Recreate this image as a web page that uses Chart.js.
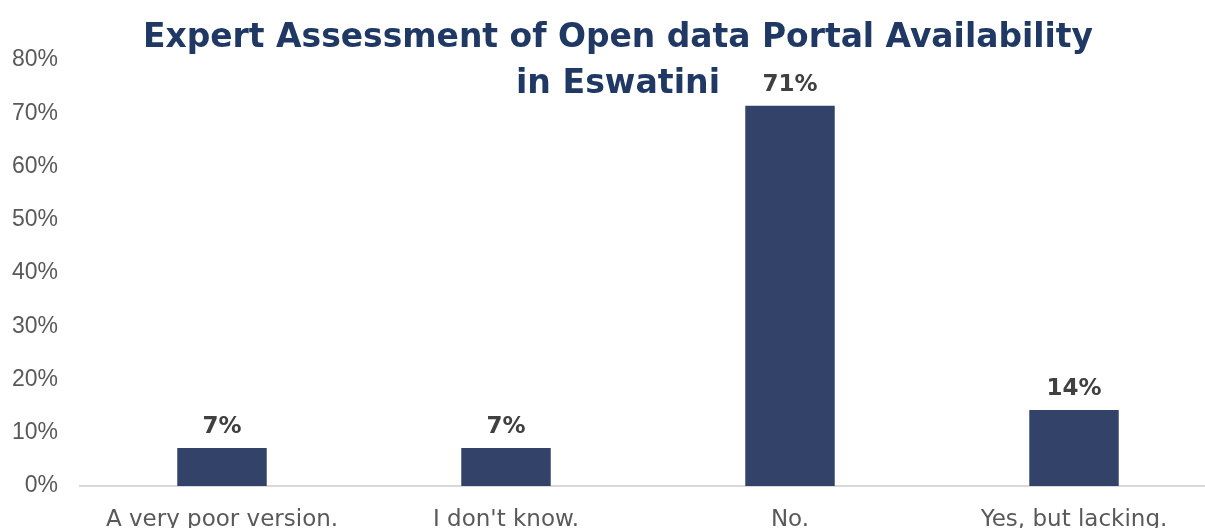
<!DOCTYPE html>
<html>
<head>
<meta charset="utf-8">
<title>Open data Portal Availability</title>
<script src="https://cdn.jsdelivr.net/npm/chart.js@4/dist/chart.umd.min.js"></script>
<style>
    html, body { margin: 0; padding: 0; background: #fff; overflow: hidden; }
    #wrap { position: relative; width: 1216px; height: 528px; }
</style>
</head>
<body>
<div id="wrap"><canvas id="portalChart"></canvas></div>
<script>
// Share of experts per answer (percent)
const categories = ["A very poor version.", "I don't know.", "No.", "Yes, but lacking."];
const shares = [7.14, 7.14, 71.43, 14.29];
const yTicks = [0, 10, 20, 30, 40, 50, 60, 70, 80];
const titleLines = ["Expert Assessment of Open data Portal Availability", "in Eswatini"];

const barColor = "#334269";
const textGray = "#595959";

// Title sits over the top of the plot, like the original report figure
const titlePlugin = {
    id: "overlayTitle",
    afterDraw(chart) {
        const ctx = chart.ctx;
        ctx.save();
        ctx.fillStyle = "#1F3864";
        ctx.font = "bold 34px 'DejaVu Sans', sans-serif";
        ctx.textAlign = "center";
        ctx.textBaseline = "alphabetic";
        ctx.fillText(titleLines[0], 618, 47, 950);
        ctx.fillText(titleLines[1], 618, 93, 204);
        ctx.restore();
    }
};

// Bold percentage above each bar
const valueLabels = {
    id: "valueLabels",
    afterDatasetsDraw(chart) {
        const ctx = chart.ctx;
        const meta = chart.getDatasetMeta(0);
        ctx.save();
        ctx.fillStyle = "#404040";
        ctx.font = "bold 23px 'DejaVu Sans', sans-serif";
        ctx.textAlign = "center";
        ctx.textBaseline = "alphabetic";
        meta.data.forEach((bar, i) => {
            ctx.fillText(Math.round(shares[i]) + "%", bar.x, bar.y - 15);
        });
        ctx.restore();
    }
};

const ctx = document.getElementById("portalChart").getContext("2d");
new Chart(ctx, {
    type: "bar",
    data: {
        labels: categories,
        datasets: [{
            data: shares,
            backgroundColor: barColor,
            borderWidth: 0,
            barPercentage: 0.315,
            categoryPercentage: 1.0
        }]
    },
    options: {
        responsive: true,
        maintainAspectRatio: false,
        animation: false,
        layout: { padding: { top: 60, left: 0, right: 0, bottom: 0 } },
        plugins: {
            legend: { display: false },
            title: { display: false },
            tooltip: { enabled: false }
        },
        scales: {
            x: {
                grid: { display: false, drawTicks: false },
                border: { display: true, color: "#d9d9d9", width: 2 },
                ticks: {
                    color: textGray,
                    padding: 20,
                    maxRotation: 0,
                    autoSkip: false,
                    font: { family: "'DejaVu Sans', sans-serif", size: 23 }
                },
                afterFit(scale) { scale.height = 42; }
            },
            y: {
                min: 0,
                max: 80,
                afterBuildTicks(scale) {
                    scale.ticks = yTicks.map(v => ({ value: v }));
                },
                grid: { display: false, drawTicks: false },
                border: { display: false },
                ticks: {
                    color: textGray,
                    padding: 22,
                    font: { family: "'Liberation Sans', Arial, sans-serif", size: 23 },
                    callback: v => v + "%"
                },
                afterFit(scale) { scale.width = 80; }
            }
        }
    },
    plugins: [titlePlugin, valueLabels]
});
</script>
</body>
</html>
